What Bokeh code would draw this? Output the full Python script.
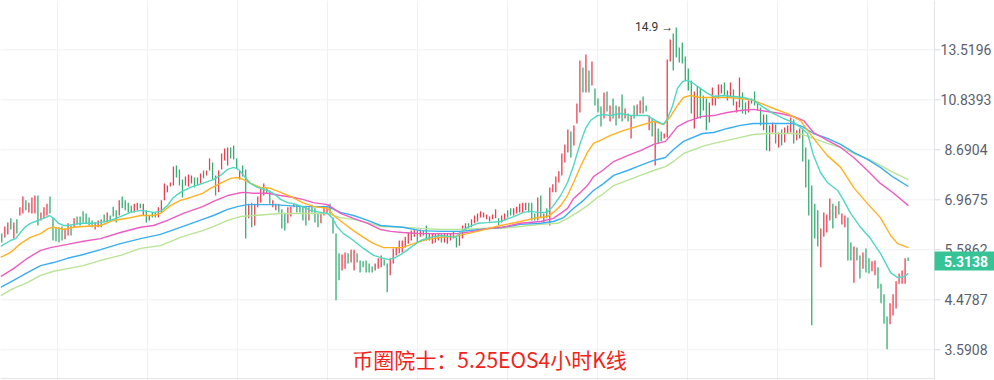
import math
from bokeh.plotting import figure
from bokeh.models import Range1d, FixedTicker, Label, ColumnDataSource
from bokeh.core.properties import value
from bokeh.embed import file_html
from bokeh.resources import INLINE

# ---------------- data ----------------
opens = [
    6.00, 5.90, 5.98, 6.42, 5.87, 6.39, 6.50, 6.56, 6.95, 6.59,
    6.56, 6.56, 7.10, 6.36, 6.42, 6.50, 7.07, 6.44, 6.17, 6.17,
    6.19, 5.85, 5.95, 6.22, 6.17, 6.47, 6.47, 6.62, 6.56, 6.44,
    6.36, 6.11, 6.17, 6.39,
    6.53, 6.30, 6.50, 6.76, 6.65, 6.50, 7.07, 6.95, 6.88, 6.79,
    6.59, 6.65, 6.85, 6.50, 6.65, 6.36, 6.59, 6.59, 6.44, 6.59,
    6.95, 7.20, 7.39, 7.42, 8.11, 7.97, 7.62, 7.42, 7.39, 7.49,
    7.69, 7.69, 7.49,
    7.93, 7.76, 7.93, 8.22, 7.76, 7.20, 7.97, 8.29, 8.11, 8.78,
    8.86, 8.36, 7.62, 8.11, 7.97, 6.42, 6.88, 6.22, 6.74, 6.88,
    7.10, 7.36, 7.26, 6.74, 6.65, 6.85, 6.68, 6.56, 6.28, 6.47,
    6.74, 6.82, 6.79,
    6.79, 6.79, 6.36, 6.82, 6.71, 6.56, 6.28, 6.50, 6.56, 6.85,
    6.44, 6.00, 5.50, 5.10, 5.14, 5.50, 5.28, 5.10, 5.50, 5.33,
    5.31, 5.33, 5.26, 5.19, 5.10, 5.14, 5.17, 5.35, 5.26, 4.99,
    5.26, 5.45, 5.50,
    5.52, 5.64, 5.74, 5.82, 5.92, 6.08, 5.92, 6.08, 6.22, 5.82,
    5.74, 5.77, 5.82, 6.00, 5.77, 5.74, 5.82, 6.06, 5.90, 5.69,
    5.87, 6.08, 6.28, 6.17, 6.28, 6.33, 6.44, 6.44, 6.39, 6.33,
    6.39, 6.42, 6.42,
    6.30, 6.36, 6.65, 6.71, 6.50, 6.56, 6.59, 6.59, 6.65, 6.88,
    6.88, 6.56, 6.36, 7.10, 6.30, 6.71, 6.22, 7.20, 7.20, 7.52,
    7.76, 8.22, 8.59, 9.42, 8.86, 9.76, 10.25, 12.50, 11.20, 12.34,
    11.55, 11.40, 10.90,
    10.52, 9.98, 11.25, 9.85, 10.90, 10.57, 9.98, 11.10, 9.98, 10.20,
    9.14, 10.57, 10.11, 10.20, 11.00, 10.57, 9.47, 9.98, 8.11, 9.55,
    9.42, 9.14, 9.18, 12.84, 14.53, 14.92, 13.66, 13.96, 13.12, 12.45,
    11.81, 9.55, 11.50,
    11.40, 11.05, 10.90, 9.81, 10.57, 10.57, 10.90, 11.15, 11.70, 10.81,
    10.95, 11.35, 10.25, 10.48, 11.20, 10.71, 10.25, 10.66, 11.25, 10.71,
    10.48, 9.47, 10.16, 8.63, 9.38, 9.72, 8.78, 9.51, 8.98, 9.34,
    9.38, 9.94, 9.06, 9.14,
    9.55, 8.78, 8.33, 7.42, 6.85, 6.65, 5.17, 5.92, 6.03, 6.36,
    6.85, 6.42, 6.92, 6.25, 6.17, 6.44, 5.77, 4.83, 5.64, 5.45,
    5.14, 5.62, 5.38, 5.08, 4.99, 5.17, 4.81, 4.59, 4.16, 4.02,
    4.18, 4.31, 4.81, 4.81, 4.81, 5.40,
]
closes = [
    5.77, 6.19, 6.30, 6.11, 6.30, 6.00, 6.74, 7.07, 6.65, 6.88,
    7.04, 7.10, 6.22, 6.59, 6.74, 6.85, 6.56, 5.82, 5.80, 5.77,
    5.82, 6.14, 6.28, 5.95, 6.42, 6.25, 6.22, 6.30, 6.28, 6.22,
    6.17, 6.30, 6.36, 6.17,
    6.30, 6.59, 6.36, 6.47, 6.30, 6.95, 6.71, 6.65, 6.59, 6.59,
    6.85, 6.88, 6.71, 6.85, 6.30, 6.50, 6.44, 6.44, 6.74, 6.95,
    7.49, 7.42, 7.52, 8.07, 7.69, 7.42, 7.04, 7.72, 7.79, 7.76,
    7.36, 7.42, 7.83,
    7.66, 7.93, 8.36, 7.62, 7.10, 7.93, 8.55, 8.74, 8.78, 8.36,
    8.33, 8.00, 7.93, 7.72, 5.87, 6.85, 6.17, 6.85, 7.07, 7.36,
    7.49, 7.17, 6.85, 6.95, 6.85, 6.59, 6.14, 6.08, 6.74, 6.76,
    6.85, 6.59, 6.59,
    6.36, 6.22, 6.74, 6.59, 6.30, 6.17, 6.59, 6.79, 6.79, 6.50,
    6.00, 4.47, 4.88, 5.47, 5.52, 5.26, 5.59, 5.59, 5.28, 5.05,
    5.17, 5.05, 5.05, 5.05, 5.26, 5.38, 5.45, 5.21, 4.63, 5.38,
    5.62, 5.64, 5.82,
    5.82, 5.92, 6.03, 6.08, 6.11, 5.77, 6.11, 5.95, 5.82, 6.00,
    6.00, 6.00, 6.00, 5.77, 6.00, 6.00, 6.00, 5.87, 5.64, 6.03,
    6.22, 6.28, 6.14, 6.39, 6.50, 6.56, 6.62, 6.59, 6.53, 6.47,
    6.53, 6.68, 6.22,
    6.50, 6.56, 6.44, 6.50, 6.71, 6.76, 6.85, 6.88, 6.88, 6.59,
    6.36, 6.36, 7.04, 6.42, 6.56, 6.42, 7.36, 7.46, 7.72, 7.90,
    8.55, 8.90, 9.51, 8.40, 9.68, 10.66, 12.90, 11.20, 13.24, 11.20,
    12.84, 10.57, 10.25,
    9.63, 11.20, 10.29, 10.57, 9.98, 9.68, 10.52, 9.85, 10.43, 9.85,
    10.11, 9.98, 10.62, 10.81, 10.20, 10.29, 10.11, 9.22, 9.85, 8.94,
    9.02, 9.34, 12.95, 14.15, 12.34, 13.07, 12.78, 12.73, 11.81, 11.30,
    10.20, 11.25, 9.98,
    9.98, 10.34, 9.47, 10.71, 11.45, 11.05, 11.60, 11.60, 11.05, 11.30,
    11.70, 10.57, 10.76, 11.96, 10.20, 10.16, 10.81, 10.90, 10.57, 10.34,
    9.68, 10.16, 8.66, 9.68, 9.81, 8.94, 9.38, 8.86, 9.59, 9.68,
    10.02, 8.94, 9.47, 9.55,
    8.25, 7.36, 6.50, 4.00, 5.87, 5.67, 6.14, 6.59, 6.53, 7.01,
    6.14, 6.79, 6.53, 6.56, 6.50, 5.33, 5.33, 5.67, 5.33, 4.92,
    5.52, 5.05, 5.03, 5.31, 5.33, 4.71, 4.41, 4.03, 3.60, 4.41,
    4.59, 4.86, 5.03, 5.10, 5.38, 5.3138,
]

ma1_x = [-0.4, 2.9, 4.6, 6.2, 7.9, 9.5, 11.2, 12.9, 14.5, 15.8,
         17.2, 18.8, 20.5, 22.2, 23.8, 26.8, 29.5, 32.8, 36.1, 39.4,
         42.7, 46.1, 48.4, 50.4, 52.7, 55.0, 57.0, 59.3, 62.7, 66.7,
         68.3, 70.3, 72.6, 75.0, 77.0, 78.6, 80.3, 82.6, 84.9, 88.2,
         90.2, 92.6, 94.9, 96.9, 99.9, 102.5, 105.9, 108.2, 109.8, 111.5,
         113.5, 116.8, 120.1, 123.5, 126.8, 128.4, 130.8, 133.1, 135.7, 139.1,
         142.4, 145.7, 149.0, 150.7, 152.3, 154.7, 158.0, 161.3, 165.6, 170.0,
         173.3, 175.6, 177.9, 181.2, 183.2, 185.6, 187.9, 189.9, 192.2, 193.9,
         195.5, 197.8, 199.5, 202.2, 205.5, 208.8, 212.1, 214.4, 217.1, 219.8,
         221.1, 222.8, 224.4, 226.1, 227.7, 229.7, 232.0, 234.4, 236.4, 239.7,
         243.0, 246.3, 249.7, 253.0, 256.3, 259.6, 262.9, 265.3, 267.6, 269.6,
         271.9, 274.2, 277.6, 279.6, 281.9, 285.2, 288.5, 291.8, 295.2, 297.5,
         299.5, 301.1]
ma1_y = [5.67, 5.82, 5.87, 6.03, 6.19, 6.28, 6.33, 6.39, 6.44, 6.50,
         6.42, 6.28, 6.22, 6.22, 6.25, 6.28, 6.28, 6.30, 6.36, 6.47,
         6.59, 6.65, 6.62, 6.59, 6.62, 6.79, 7.04, 7.20, 7.36, 7.49,
         7.55, 7.62, 7.76, 7.97, 8.04, 7.97, 7.76, 7.49, 7.36, 7.26,
         7.17, 6.98, 6.88, 6.85, 6.76, 6.65, 6.59, 6.56, 6.42, 6.17,
         6.00, 5.82, 5.62, 5.45, 5.38, 5.35, 5.40, 5.50, 5.64, 5.82,
         5.90, 5.95, 5.92, 5.90, 6.03, 6.17, 6.28, 6.30, 6.33, 6.47,
         6.59, 6.62, 6.59, 6.59, 6.79, 7.10, 7.52, 8.11, 8.98, 9.55,
         9.89, 10.11, 10.16, 10.11, 10.20, 10.11, 10.11, 10.11, 9.89, 9.72,
         9.98, 10.57, 11.40, 11.75, 11.81, 11.65, 11.40, 11.15, 11.00, 11.05,
         11.00, 10.95, 10.81, 10.48, 10.20, 9.98, 9.81, 9.59, 9.34, 8.47,
         7.86, 7.52, 7.26, 6.95, 6.56, 6.17, 5.87, 5.50, 5.05, 4.94,
         4.96, 5.03]

ma2_x = [-0.4, 2.9, 6.2, 9.5, 12.9, 15.5, 17.2, 20.5, 23.8, 27.1,
         32.8, 37.1, 41.7, 46.1, 50.4, 52.7, 56.0, 59.3, 62.7, 66.7,
         69.3, 72.6, 76.0, 78.3, 80.3, 82.6, 85.9, 89.2, 92.6, 95.9,
         99.9, 103.5, 108.2, 110.2, 113.5, 116.8, 120.1, 123.5, 126.8, 130.1,
         133.1, 136.7, 141.4, 145.7, 150.0, 154.7, 159.0, 165.6, 172.3, 176.6,
         181.2, 183.2, 185.6, 187.9, 189.9, 192.2, 194.5, 196.5, 198.8, 202.2,
         205.5, 208.8, 212.1, 216.5, 219.8, 222.1, 224.4, 226.4, 228.7, 232.0,
         236.4, 241.0, 245.3, 249.7, 253.0, 256.3, 260.9, 265.3, 267.6, 270.9,
         274.2, 278.6, 282.9, 287.5, 291.8, 295.2, 297.5, 301.1]
ma2_y = [5.40, 5.52, 5.74, 5.90, 6.00, 6.14, 6.17, 6.11, 6.17, 6.19,
         6.22, 6.36, 6.42, 6.50, 6.50, 6.56, 6.79, 6.95, 7.04, 7.17,
         7.33, 7.49, 7.66, 7.69, 7.62, 7.49, 7.36, 7.33, 7.20, 7.07,
         6.88, 6.76, 6.71, 6.50, 6.28, 6.08, 5.90, 5.74, 5.64, 5.64,
         5.64, 5.74, 5.85, 5.90, 5.92, 6.00, 6.08, 6.22, 6.33, 6.42,
         6.47, 6.59, 6.79, 7.10, 7.52, 8.07, 8.59, 8.94, 9.06, 9.26,
         9.42, 9.55, 9.68, 9.85, 9.72, 10.07, 10.57, 10.95, 11.05, 10.95,
         10.95, 10.95, 10.90, 10.81, 10.62, 10.43, 10.20, 9.89, 9.47, 8.94,
         8.47, 8.04, 7.36, 6.85, 6.44, 5.95, 5.74, 5.64]

ma3_x = [-0.4, 3.9, 8.5, 12.9, 16.2, 21.8, 27.1, 32.8, 39.4, 46.1,
         50.4, 55.0, 60.3, 66.7, 70.3, 75.0, 78.3, 80.3, 83.6, 88.2,
         92.6, 96.9, 99.9, 103.5, 108.2, 112.5, 116.8, 121.5, 125.8, 129.1,
         133.1, 139.1, 145.7, 151.3, 156.7, 161.3, 166.3, 172.3, 178.9, 183.2,
         185.6, 187.9, 189.9, 192.2, 194.5, 196.5, 199.5, 203.2, 207.8, 212.1,
         216.5, 220.4, 222.1, 224.4, 227.7, 232.7, 236.4, 241.0, 245.3, 249.7,
         254.3, 258.6, 262.9, 266.3, 269.6, 274.2, 278.6, 282.9, 287.5, 291.8,
         296.2, 301.1]
ma3_y = [4.96, 5.14, 5.38, 5.57, 5.64, 5.72, 5.80, 5.87, 6.03, 6.17,
         6.22, 6.36, 6.56, 6.76, 6.92, 7.10, 7.17, 7.20, 7.17, 7.17,
         7.10, 7.04, 6.98, 6.88, 6.82, 6.56, 6.42, 6.28, 6.11, 6.06,
         6.03, 6.00, 6.00, 6.00, 6.06, 6.14, 6.17, 6.28, 6.33, 6.42,
         6.56, 6.71, 7.01, 7.20, 7.42, 7.72, 7.93, 8.25, 8.47, 8.66,
         8.90, 9.02, 9.26, 9.63, 9.85, 10.07, 10.11, 10.25, 10.34, 10.39,
         10.29, 10.20, 10.07, 9.89, 9.38, 9.06, 8.78, 8.40, 7.93, 7.49,
         7.17, 6.79]

ma4_x = [-0.4, 3.9, 8.5, 12.9, 17.2, 21.8, 27.1, 32.8, 39.4, 46.1,
         52.7, 59.3, 66.7, 70.3, 75.0, 78.3, 81.6, 85.9, 90.2, 94.9,
         99.9, 108.2, 112.5, 116.8, 121.5, 125.8, 133.1, 139.1, 145.7, 152.3,
         159.0, 166.3, 172.3, 178.9, 183.2, 186.6, 189.9, 193.2, 196.5, 199.5,
         203.2, 207.8, 212.1, 216.5, 220.4, 223.1, 226.4, 232.7, 236.4, 241.0,
         245.3, 249.7, 254.3, 258.6, 262.9, 265.9, 269.6, 274.2, 278.6, 282.9,
         287.5, 291.8, 296.2, 301.1]
ma4_y = [4.73, 4.88, 5.05, 5.21, 5.28, 5.38, 5.47, 5.59, 5.74, 5.87,
         5.98, 6.17, 6.39, 6.50, 6.68, 6.76, 6.82, 6.82, 6.82, 6.79,
         6.76, 6.76, 6.59, 6.50, 6.36, 6.22, 6.17, 6.08, 6.06, 6.06,
         6.11, 6.17, 6.25, 6.28, 6.33, 6.44, 6.71, 6.95, 7.26, 7.46,
         7.76, 7.93, 8.11, 8.29, 8.40, 8.70, 9.02, 9.34, 9.38, 9.55,
         9.68, 9.76, 9.76, 9.76, 9.76, 9.63, 9.34, 9.14, 8.90, 8.59,
         8.33, 8.04, 7.69, 7.39]

ma5_x = [-0.4, 3.9, 8.5, 12.9, 17.2, 21.8, 27.1, 32.8, 39.4, 46.1,
         52.7, 59.3, 66.7, 70.3, 75.0, 79.3, 83.6, 88.2, 92.6, 96.9,
         103.5, 108.2, 112.5, 116.8, 121.5, 125.8, 133.1, 139.1, 145.7, 152.3,
         159.0, 165.6, 172.3, 178.9, 184.6, 187.9, 191.2, 194.5, 197.8, 199.5,
         203.2, 207.8, 212.1, 216.5, 220.4, 223.1, 226.4, 232.7, 236.4, 241.0,
         245.3, 249.7, 254.3, 258.6, 262.9, 265.9, 269.6, 274.2, 278.6, 282.9,
         287.5, 291.8, 296.2, 301.1]
ma5_y = [4.56, 4.71, 4.83, 4.99, 5.08, 5.14, 5.21, 5.33, 5.45, 5.62,
         5.69, 5.90, 6.08, 6.19, 6.36, 6.47, 6.50, 6.53, 6.56, 6.56,
         6.56, 6.56, 6.44, 6.39, 6.30, 6.19, 6.17, 6.14, 6.11, 6.11,
         6.14, 6.14, 6.19, 6.25, 6.28, 6.42, 6.59, 6.79, 7.04, 7.13,
         7.42, 7.59, 7.76, 7.93, 8.07, 8.25, 8.55, 8.82, 8.94, 9.06,
         9.18, 9.30, 9.34, 9.34, 9.34, 9.30, 9.14, 8.94, 8.78, 8.55,
         8.36, 8.11, 7.86, 7.62]

tick_values = [3.5908, 4.4787, 5.5862, 6.9675, 8.6904, 10.8393, 13.5196]
tick_labels = ["3.5908", "4.4787", "5.5862", "6.9675", "8.6904", "10.8393", "13.5196"]
time_grid = [18.5, 48.4, 78.3, 108.2, 138.1, 168.0, 197.8, 227.7, 257.6, 287.5]
title_text = "币圈院士：5.25EOS4小时K线"

# ---------------- layout helpers (pixel -> data for decorations only) ----------------
W, H = 994, 380
X_PX0, X_STEP = 1.3, 3.011          # candle 0 at 1.3 px, 3.011 px per candle
LN_TOP, Y_PX_TOP, K = math.log(13.5196), 49.3, 0.0044194


def xpx(px):
    return (px - X_PX0) / X_STEP


def ypx(px):
    return math.exp(LN_TOP - (px - Y_PX_TOP) * K)


AXIS_X = xpx(934)

# ---------------- styling ----------------
UP = "#ec3f50"
DOWN = "#35ad72"
MA_COLORS = ["#4fd7c1", "#ffb11f", "#ee5cc2", "#3aaef0", "#b8e495"]
GRID = "#eff1f4"
AXIS = "#e2e4e8"
FONT = "Roboto"

n = len(opens)
idx = list(range(n))
src = ColumnDataSource(dict(
    x=idx,
    top=[max(o, c) for o, c in zip(opens, closes)],
    bottom=[min(o, c) for o, c in zip(opens, closes)],
    color=[UP if c >= o else DOWN for o, c in zip(opens, closes)],
))

p = figure(width=W, height=H, title=None,
           y_axis_type="log", x_axis_location=None, y_axis_location=None,
           x_range=Range1d(xpx(0), xpx(W)), y_range=Range1d(ypx(H), ypx(0)),
           output_backend="svg", toolbar_location=None,
           min_border_left=0, min_border_right=0, min_border_top=0, min_border_bottom=0)
p.outline_line_color = None
p.background_fill_color = "white"
p.border_fill_color = "white"

p.xgrid.ticker = FixedTicker(ticks=time_grid)
p.xgrid.grid_line_color = GRID
p.ygrid.visible = False

# horizontal price grid, stopping at the price scale
p.segment(x0=[xpx(0)] * len(tick_values), y0=tick_values,
          x1=[AXIS_X] * len(tick_values), y1=tick_values,
          line_color=GRID, line_width=1)

# candles
p.segment(x0="x", y0="bottom", x1="x", y1="top", color="color", line_width=1.3, source=src)

# moving averages
for xs, ys, col in [(ma5_x, ma5_y, MA_COLORS[4]), (ma4_x, ma4_y, MA_COLORS[3]),
                    (ma3_x, ma3_y, MA_COLORS[2]), (ma2_x, ma2_y, MA_COLORS[1]),
                    (ma1_x, ma1_y, MA_COLORS[0])]:
    p.line(xs, ys, line_color=col, line_width=1.4)

# price scale: axis line, bottom line, ticks and labels
p.segment(x0=[AXIS_X], y0=[ypx(H)], x1=[AXIS_X], y1=[ypx(0)], line_color=AXIS, line_width=1)
p.segment(x0=[xpx(0)], y0=[ypx(378)], x1=[AXIS_X], y1=[ypx(378)], line_color=AXIS, line_width=1)
p.segment(x0=[AXIS_X] * len(tick_values), y0=tick_values,
          x1=[xpx(940)] * len(tick_values), y1=tick_values,
          line_color="#d6d9de", line_width=1)
p.text(x=[xpx(965.5)] * len(tick_values), y=tick_values, text=tick_labels,
       text_align="center", text_baseline="middle",
       text_font=value(FONT), text_font_size="14px", text_color="#5b5f6c")

# last price tag
last = closes[-1]
half = 9.5 * K
p.quad(left=[AXIS_X], right=[xpx(W + 2)],
       top=[last * math.exp(half)], bottom=[last * math.exp(-half)],
       fill_color="#36c497", line_color=None)
p.text(x=[xpx(965.5)], y=[last], text=[f"{last:.4f}"],
       text_align="center", text_baseline="middle",
       text_font=value(FONT), text_font_size="14px", text_font_style="bold",
       text_color="white")

# peak marker
highs = [max(o, c) for o, c in zip(opens, closes)]
pk = max(range(n), key=lambda i: highs[i])
p.add_layout(Label(x=pk, y=highs[pk], x_offset=-3, text=f"{highs[pk]:.1f} \u2192",
                   text_align="right", text_baseline="middle",
                   text_font=FONT, text_font_size="12px", text_color="#333333"))

# caption
p.add_layout(Label(x=xpx(489), y=ypx(358), text=title_text, text_align="center",
                   text_baseline="middle", text_font="Noto Sans CJK SC",
                   text_font_size="21px", text_color="#f2231b"))

open("out.html", "w").write(file_html(p, INLINE))
